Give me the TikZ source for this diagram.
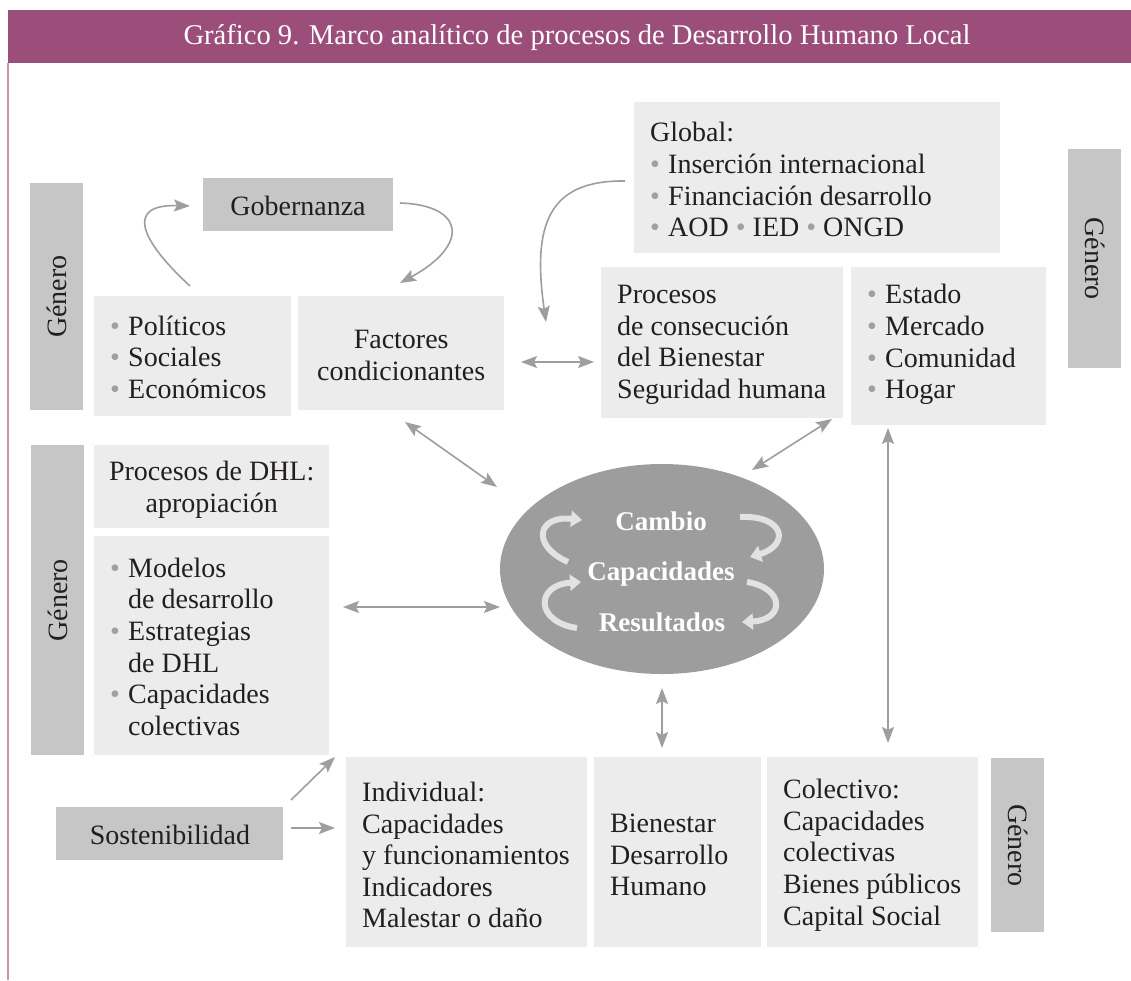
\documentclass[tikz,border=0pt]{standalone}
\usepackage{fontspec}
\setmainfont{Liberation Serif}
\usetikzlibrary{arrows.meta,shapes.geometric}
\definecolor{hdr}{HTML}{9C4E7B}
\definecolor{bord}{HTML}{C994B2}
\definecolor{gbar}{HTML}{C6C6C6}
\definecolor{lbox}{HTML}{ECECEC}
\definecolor{agray}{HTML}{9E9E9E}
\definecolor{ellc}{HTML}{9D9D9D}
\definecolor{swirl}{HTML}{E2E2E2}
\definecolor{txt}{HTML}{231F20}
\definecolor{bulc}{HTML}{A0A0A0}
\newcommand\fs{\fontsize{28}{31.6}\selectfont}
\newcommand\bul{\makebox[18pt][l]{\textcolor{bulc}{\textbullet}}}
\newcommand\bulin{\textcolor{bulc}{\textbullet}}
\newcommand\ind{\hspace*{18pt}}
\begin{document}
\begin{tikzpicture}[x=1pt,y=-1pt,
  >={Stealth[length=16pt,width=12pt,inset=3pt]},
  box/.style={fill=lbox,inner sep=0pt,anchor=north west},
  gbox/.style={fill=gbar,inner sep=0pt,anchor=north west},
  tl/.style={align=left,inner sep=0pt,text=txt,font=\fs,anchor=west},
  tc/.style={align=center,inner sep=0pt,text=txt,font=\fs},
  arr/.style={draw=agray,line width=1.6pt,->},
  darr/.style={draw=agray,line width=1.6pt,<->},
  swl/.style={draw=swirl,line width=6pt,-{Triangle[length=11pt,width=16pt]}},
  etext/.style={inner sep=0pt,text=white,font=\fontsize{27}{27}\selectfont\bfseries,anchor=base}
]
\useasboundingbox (0,0) rectangle (1131,980);
\fill[white] (0,0) rectangle (1131,980);
% header
\node[fill=hdr,inner sep=0pt,anchor=north west,minimum width=1123pt,minimum height=53pt] (hdr) at (8,10) {};
\node[text=white,font=\fontsize{28.6}{28.6}\selectfont,inner sep=0pt] (title) at (577,37) {Gráfico 9. Marco analítico de procesos de Desarrollo Humano Local};
\coordinate (bt) at (8,63);
\coordinate (bb) at (8,980);
\draw[bord,line width=1.2pt] (bt) -- (bb);

% Genero bars
\node[gbox,minimum width=53pt,minimum height=227pt] (g1) at (30,183) {};
\node[tc,rotate=90] (g1t) at (g1.center) {Género};
\node[gbox,minimum width=53pt,minimum height=310pt] (g2) at (31,445) {};
\node[tc,rotate=90] (g2t) at (g2.center) {Género};
\node[gbox,minimum width=53pt,minimum height=219pt] (g3) at (1068,149) {};
\node[tc,rotate=-90] (g3t) at (g3.center) {Género};
\node[gbox,minimum width=53pt,minimum height=174pt] (g4) at (991,758) {};
\node[tc,rotate=-90] (g4t) at (g4.center) {Género};

% Gobernanza
\node[gbox,minimum width=190pt,minimum height=53pt] (gob) at (203,178) {};
\node[tc,anchor=base] (gobt) at (298,215) {Gobernanza};

% Politicos
\node[box,minimum width=197pt,minimum height=120pt] (pol) at (94,296) {};
\node[tl] (polt) at ([xshift=16pt,yshift=-1pt]pol.west) {\bul Políticos\\\bul Sociales\\\bul Económicos};

% Factores
\node[box,minimum width=206pt,minimum height=114pt] (fac) at (298,296) {};
\node[tc] (fact) at ([yshift=-2pt]fac.center) {Factores\\condicionantes};

% Global
\node[box,minimum width=366pt,minimum height=151pt] (glob) at (634,102) {};
\node[tl] (globt) at ([xshift=16pt,yshift=-2pt]glob.west) {Global:\\\bul Inserción internacional\\\bul Financiación desarrollo\\\bul AOD \bulin{} IED \bulin{} ONGD};

% Procesos
\node[box,minimum width=242pt,minimum height=151pt] (proc) at (601,267) {};
\node[tl] (proct) at ([xshift=16pt,yshift=-2pt]proc.west) {Procesos\\de consecución\\del Bienestar\\Seguridad humana};

% Estado
\node[box,minimum width=195pt,minimum height=158pt] (est) at (851,267) {};
\node[tl] (estt) at ([xshift=16pt]est.west |- proct.west) {\bul Estado\\\bul Mercado\\\bul Comunidad\\\bul Hogar};

% Procesos de DHL
\node[box,minimum width=235pt,minimum height=83pt] (pdhl) at (94,445) {};
\node[tc] (pdhlt) at ([yshift=-3pt]pdhl.center) {Procesos de DHL:\\apropiación};

% Modelos
\node[box,minimum width=235pt,minimum height=219pt] (mod) at (94,536) {};
\node[tl] (modt) at ([xshift=16pt,yshift=-1pt]mod.west) {\bul Modelos\\\ind de desarrollo\\\bul Estrategias\\\ind de DHL\\\bul Capacidades\\\ind colectivas};

% Sostenibilidad
\node[gbox,minimum width=227pt,minimum height=53pt] (sos) at (56,807) {};
\node[tc,anchor=base] (sost) at (170,844) {Sostenibilidad};

% bottom boxes
\node[box,minimum width=241pt,minimum height=190pt] (ind) at (346,757) {};
\node[tl] (indt) at ([xshift=16pt,yshift=-3pt]ind.west) {Individual:\\Capacidades\\y funcionamientos\\Indicadores\\Malestar o daño};
\node[box,minimum width=167pt,minimum height=190pt] (bien) at (594,757) {};
\node[tl] (bient) at ([xshift=16pt,yshift=-3pt]bien.west) {Bienestar\\Desarrollo\\Humano};
\node[box,minimum width=211pt,minimum height=190pt] (col) at (767,757) {};
\node[tl] (colt) at ([xshift=16pt,yshift=-3pt]col.west) {Colectivo:\\Capacidades\\colectivas\\Bienes públicos\\Capital Social};

% ellipse
\node[ellipse,fill=ellc,minimum width=324pt,minimum height=210pt,inner sep=0pt] (ell) at (662,569) {};
\node[etext] (e1) at (661,530) {Cambio};
\node[etext] (e2) at (661,580) {Capacidades};
\node[etext] (e3) at (662,631) {Resultados};

% swirl arrows
\coordinate (s1a) at (568,562); \coordinate (s1b) at (582,520);
\coordinate (s2a) at (577,628); \coordinate (s2b) at (581,582);
\coordinate (s3a) at (740,517); \coordinate (s3b) at (750,557);
\coordinate (s4a) at (747,582); \coordinate (s4b) at (742,622);
\draw[swl] (s1a) .. controls (530,545) and (538,515) .. (s1b);
\draw[swl] (s2a) .. controls (535,622) and (535,585) .. (s2b);
\draw[swl] (s3a) .. controls (785,515) and (790,545) .. (s3b);
\draw[swl] (s4a) .. controls (785,588) and (785,620) .. (s4b);

% curved arrows
\coordinate (c1a) at (190,286); \coordinate (c1b) at (190,206);
\draw[arr] (c1a) .. controls (140,240) and (125,204) .. (c1b);
\coordinate (c2a) at (400,203); \coordinate (c2b) at (400,283);
\draw[arr] (c2a) .. controls (465,205) and (470,245) .. (c2b);
\coordinate (c3a) at (625,181); \coordinate (c3b) at (546,322);
\draw[arr] (c3a) .. controls (548,180) and (532,225) .. (c3b);

% straight arrows
\coordinate (fpA) at (521,362); \coordinate (fpB) at (594,362);
\draw[darr] (fpA) -- (fpB);
\coordinate (feA) at (405,422); \coordinate (feB) at (497,487);
\draw[darr] (feA) -- (feB);
\coordinate (peA) at (832,419); \coordinate (peB) at (752,470);
\draw[darr] (peA) -- (peB);
\coordinate (meA) at (343,607); \coordinate (meB) at (500,607);
\draw[darr] (meA) -- (meB);
\coordinate (ebA) at (662,688); \coordinate (ebB) at (662,748);
\draw[darr] (ebA) -- (ebB);
\coordinate (ecA) at (888,428); \coordinate (ecB) at (888,743);
\draw[darr] (ecA) -- (ecB);
\coordinate (siA) at (291,828); \coordinate (siB) at (335,828);
\draw[arr] (siA) -- (siB);
\coordinate (smA) at (291,800); \coordinate (smB) at (335,757);
\draw[arr] (smA) -- (smB);
\end{tikzpicture}
\end{document}
